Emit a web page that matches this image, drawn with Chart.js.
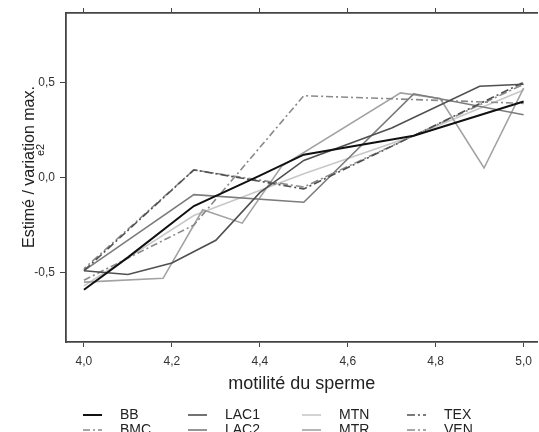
<!DOCTYPE html>
<html>
<head>
<meta charset="utf-8">
<script src="https://cdn.jsdelivr.net/npm/chart.js@4/dist/chart.umd.min.js"></script>
<style>
html,body{margin:0;padding:0;background:#fff;overflow:hidden}
#wrap{width:539px;height:432px;position:relative}
</style>
</head>
<body>
<div id="wrap"><canvas id="c" width="539" height="432"></canvas></div>
<script>
// ---- data ----
const seriesNames = ['BB','BMC','LAC1','LAC2','MTN','MTR','TEX','VEN'];
const bbX   = [4.0, 4.1, 4.25, 4.4, 4.5, 4.75, 5.0];
const bbY   = [-0.59, -0.42, -0.15, 0.01, 0.12, 0.22, 0.40];
const bmcX  = [4.0, 4.25, 4.5, 5.0];
const bmcY  = [-0.54, -0.25, 0.43, 0.39];
const lac1X = [4.0, 4.1, 4.2, 4.3, 4.4, 4.5, 4.7, 4.9, 5.0];
const lac1Y = [-0.49, -0.51, -0.45, -0.33, -0.08, 0.09, 0.26, 0.48, 0.49];
const lac2X = [4.0, 4.25, 4.5, 4.75, 5.0];
const lac2Y = [-0.49, -0.09, -0.13, 0.44, 0.33];
const mtnX  = [4.0, 4.25, 4.5, 4.75, 5.0];
const mtnY  = [-0.57, -0.20, 0.02, 0.22, 0.46];
const mtrX  = [4.0, 4.18, 4.27, 4.36, 4.45, 4.72, 4.81, 4.91, 5.0];
const mtrY  = [-0.55, -0.53, -0.17, -0.24, 0.06, 0.445, 0.415, 0.05, 0.47];
const texX  = [4.0, 4.25, 4.5, 5.0];
const texY  = [-0.49, 0.04, -0.06, 0.50];
const venX  = [4.0, 4.25, 4.5, 5.0];
const venY  = [-0.48, 0.04, -0.05, 0.49];

const xTicks = [4.0, 4.2, 4.4, 4.6, 4.8, 5.0];
const xTickLabels = ['4,0','4,2','4,4','4,6','4,8','5,0'];
const yTicks = [-0.5, 0.0, 0.5];
const yTickLabels = ['-0,5','0,0','0,5'];
const xTitle = 'motilité du sperme';
const yTitle = 'Estimé / variation max.';
const ySubTitle = 'e2';

// ---- styling ----
const FONT = '"Liberation Sans", Arial, Helvetica, sans-serif';
const styles = {
  BB:   {color:'#111111', width:2,   dash:[]},
  BMC:  {color:'#8a8a8a', width:1.6, dash:[7,3,2,3]},
  LAC1: {color:'#505050', width:1.6, dash:[]},
  LAC2: {color:'#7c7c7c', width:1.6, dash:[]},
  MTN:  {color:'#c8c8c8', width:1.6, dash:[]},
  MTR:  {color:'#a2a2a2', width:1.6, dash:[]},
  TEX:  {color:'#505050', width:1.6, dash:[8,3,2,3]},
  VEN:  {color:'#8a8a8a', width:1.6, dash:[8,3,2,3]}
};
const seriesData = {
  BB:[bbX,bbY], BMC:[bmcX,bmcY], LAC1:[lac1X,lac1Y], LAC2:[lac2X,lac2Y],
  MTN:[mtnX,mtnY], MTR:[mtrX,mtrY], TEX:[texX,texY], VEN:[venX,venY]
};
const pts = (xs, ys) => xs.map((x, i) => ({x: x, y: ys[i]}));

const drawOrder = {MTN:8, MTR:7, BMC:6, VEN:5, LAC2:4, TEX:3, LAC1:2, BB:1};

const datasets = seriesNames.map(n => ({
  label: n,
  data: pts(seriesData[n][0], seriesData[n][1]),
  borderColor: styles[n].color,
  borderWidth: styles[n].width,
  borderDash: styles[n].dash,
  borderDashOffset: n === 'VEN' ? 5 : 0,
  pointRadius: 0,
  tension: 0,
  fill: false,
  order: drawOrder[n]
}));

const XMIN = 3.9592, XMAX = 5.0318, YMIN = -0.865, YMAX = 0.865;
const AX = '#444444';

const decor = {
  id: 'decor',
  beforeDraw(chart) {
    const c = chart.ctx; c.save(); c.fillStyle = '#fff';
    c.fillRect(0, 0, chart.width, chart.height); c.restore();
  },
  afterDraw(chart) {
    const c = chart.ctx;
    c.save();
    c.fillStyle = '#222';
    c.font = '16px ' + FONT;
    c.textAlign = 'center'; c.textBaseline = 'middle';
    c.translate(30, 167); c.rotate(-Math.PI / 2);
    c.fillText(yTitle, 0, 0);
    c.restore();
    c.save();
    c.fillStyle = '#222';
    c.font = '11px ' + FONT;
    c.textAlign = 'center'; c.textBaseline = 'middle';
    c.translate(41, 150); c.rotate(-Math.PI / 2);
    c.fillText(ySubTitle, 0, 0);
    c.restore();
    const colX = [83, 188, 302, 407];
    chart.data.datasets.forEach((ds, i) => {
      const col = Math.floor(i / 2), row = i % 2;
      const x0 = colX[col], y = 415 + row * 15;
      c.save();
      c.strokeStyle = ds.borderColor;
      c.lineWidth = ds.borderWidth;
      c.setLineDash(ds.borderDash || []);
      c.beginPath(); c.moveTo(x0, y); c.lineTo(x0 + 19, y); c.stroke();
      c.setLineDash([]);
      c.fillStyle = '#222';
      c.font = '14px ' + FONT;
      c.textAlign = 'left'; c.textBaseline = 'middle';
      c.fillText(ds.label, x0 + 37, y);
      c.restore();
    });
  }
};

new Chart(document.getElementById('c'), {
  type: 'line',
  data: {datasets: datasets},
  options: {
    responsive: false,
    animation: false,
    devicePixelRatio: 1,
    layout: {padding: {top: 7, right: 0, bottom: 37, left: 0}},
    plugins: {legend: {display: false}, tooltip: {enabled: false}},
    scales: {
      x: {
        type: 'linear', position: 'bottom', min: XMIN, max: XMAX,
        afterBuildTicks: s => { s.ticks = xTicks.map(v => ({value: v})); },
        afterFit: s => { s.height = 53; },
        ticks: {
          callback: v => { const k = xTicks.findIndex(t => Math.abs(t - v) < 1e-6); return k >= 0 ? xTickLabels[k] : ''; },
          font: {family: FONT, size: 12}, color: '#333', padding: 7, maxRotation: 0, autoSkip: false
        },
        grid: {drawOnChartArea: false, drawTicks: true, tickLength: 5, color: AX, lineWidth: 1},
        border: {display: true, color: AX, width: 1.8},
        title: {display: true, text: xTitle, font: {family: FONT, size: 18}, color: '#222', padding: {top: 0, bottom: 0}}
      },
      x2: {
        type: 'linear', position: 'top', min: XMIN, max: XMAX,
        afterBuildTicks: s => { s.ticks = xTicks.map(v => ({value: v})); },
        afterFit: s => { s.height = 6; },
        ticks: {display: false},
        grid: {drawOnChartArea: false, drawTicks: true, tickLength: 5, color: AX, lineWidth: 1},
        border: {display: true, color: AX, width: 1.8}
      },
      y: {
        type: 'linear', position: 'left', min: YMIN, max: YMAX,
        afterBuildTicks: s => { s.ticks = yTicks.map(v => ({value: v})); },
        afterFit: s => { s.width = 66; },
        ticks: {
          callback: v => { const k = yTicks.findIndex(t => Math.abs(t - v) < 1e-6); return k >= 0 ? yTickLabels[k] : ''; },
          font: {family: FONT, size: 12}, color: '#333', padding: 5
        },
        grid: {drawOnChartArea: false, drawTicks: true, tickLength: 6, color: AX, lineWidth: 1},
        border: {display: true, color: AX, width: 1.8}
      }
    }
  },
  plugins: [decor]
});
</script>
</body>
</html>
